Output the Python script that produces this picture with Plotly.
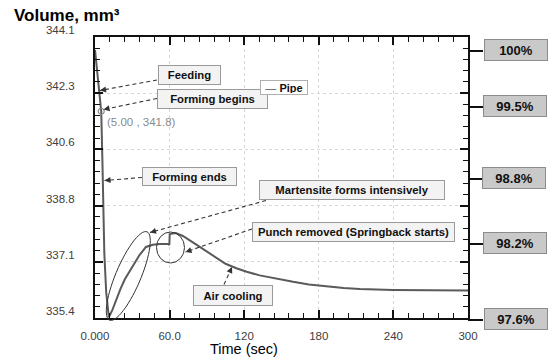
import numpy as np
import plotly.graph_objects as go

# ---- data ----
time_s = [0, 2, 3.6, 5, 6, 6.5, 7.5, 9, 10.2, 11.1, 14, 17, 20.5, 24, 27, 30.5, 35.8, 41, 46.5, 52,
          59, 59.8, 60.1, 65, 70.7, 81.5, 90, 97.6, 105, 113.7, 122, 132.5, 145, 159.3, 172, 186.2,
          200, 213, 239.6, 270, 300]
volume = [343.7, 342.9, 342.45, 341.8, 340.2, 339.0, 337.4, 336.2, 335.6, 335.42, 335.65, 335.98, 336.3,
          336.6, 336.8, 337.0, 337.35, 337.6, 337.67, 337.69, 337.69, 337.66, 338.0, 338.03, 337.94,
          337.67, 337.45, 337.25, 337.08, 336.94, 336.83, 336.72, 336.62, 336.52, 336.44, 336.38,
          336.33, 336.30, 336.27, 336.26, 336.25]
marker_t = [5.0]
marker_v = [341.8]

x_tickvals = [0, 60, 120, 180, 240, 300]
x_ticktext = ["0.000", "60.0", "120", "180", "240", "300"]
y_tickvals = [335.4, 337.14, 338.88, 340.62, 342.36, 344.1]
y_ticktext = ["335.4", "337.1", "338.8", "340.6", "342.3", "344.1"]

pct_labels = ["100%", "99.5%", "98.8%", "98.2%", "97.6%"]
pct_py = [51, 107, 179, 244, 320]          # pixel rows of the percentage markers
pct_box_cx = [515.5, 515, 513.5, 514.5, 515.5]

# ---- layout geometry (pixels) ----
W, H = 553, 361
L, R, T, B = 95, 468, 37, 318


def px(xp):
    return (xp - L) / (R - L)


def py(yp):
    return (B - yp) / (B - T)


fig = go.Figure()
fig.add_trace(go.Scatter(x=time_s, y=volume, mode="lines",
                         line=dict(color="#5a5a5a", width=2), showlegend=False, name="Pipe"))
fig.add_trace(go.Scatter(x=marker_t, y=marker_v, mode="markers",
                         marker=dict(symbol="circle-open", size=6, color="#888888", line=dict(width=1.2)),
                         showlegend=False))

shapes = []
annotations = []

FONT = "Liberation Sans, Arial, sans-serif"

# text boxes: (text, cx, cy, w, h)
boxes = [
    ("Feeding", 189.5, 75, 63, 20),
    ("Forming begins", 212.5, 99, 111, 20),
    ("Forming ends", 189.5, 176.5, 95, 19),
    ("Martensite forms intensively", 352, 190, 186, 20),
    ("Punch removed (Springback starts)", 353.5, 232.5, 203, 20),
    ("Air cooling", 233, 295.5, 80, 21),
]

# arrows: tail (px), head (px)
arrows = [
    ((157, 80), (100, 90.5)),
    ((157, 98.5), (103.5, 109.5)),
    ((142, 177.5), (104.5, 180.5)),
    ((266, 200.5), (150, 232.5)),
    ((252, 229), (185.5, 252)),
    ((224, 284.5), (232, 267)),
]
for (tx, ty), (hx, hy) in arrows:
    shapes.append(dict(type="line", xref="paper", yref="paper", x0=px(tx), y0=py(ty), x1=px(hx), y1=py(hy),
                       line=dict(color="#333333", width=1.1, dash="4px,3px"), layer="above"))
    dx, dy = tx - hx, ty - hy
    n = (dx * dx + dy * dy) ** 0.5
    annotations.append(dict(x=px(hx), y=py(hy), xref="paper", yref="paper", text="", showarrow=True,
                            ax=dx / n * 6, ay=dy / n * 6, arrowhead=2, arrowsize=1.1, arrowwidth=1.1,
                            arrowcolor="#333333"))

for text, cx, cy, w, h in boxes:
    annotations.append(dict(x=px(cx), y=py(cy), xref="paper", yref="paper", text="<b>%s</b>" % text,
                            showarrow=False, xanchor="center", yanchor="middle",
                            width=w - 4, height=h - 4, borderpad=1, borderwidth=1,
                            bordercolor="#9a9a9a", bgcolor="#f3f3f3",
                            font=dict(family=FONT, size=11.3, color="#111111")))

# legend-like "Pipe" box
annotations.append(dict(x=px(284), y=py(87), xref="paper", yref="paper",
                        text="<span style='color:#555555'>—</span> <b>Pipe</b>",
                        showarrow=False, xanchor="center", yanchor="middle", width=44, height=11,
                        borderpad=1, borderwidth=1, bordercolor="#b0b0b0", bgcolor="#ffffff",
                        font=dict(family=FONT, size=11, color="#111111")))

# data-point label
annotations.append(dict(x=px(105), y=py(122), xref="paper", yref="paper", text="(5.00 , 341.8)",
                        showarrow=False, xanchor="left", yanchor="middle",
                        font=dict(family=FONT, size=11.5, color="#8a8a8a")))

# ellipse around martensite region (rotated)
cx, cy, a, b, ang = 128.3, 276, 48, 12.5, np.deg2rad(-67)
th = np.linspace(0, 2 * np.pi, 60)
ex = cx + a * np.cos(th) * np.cos(ang) - b * np.sin(th) * np.sin(ang)
ey = cy + a * np.cos(th) * np.sin(ang) + b * np.sin(th) * np.cos(ang)
path = "M " + " L ".join("%.5f,%.5f" % (px(u), py(v)) for u, v in zip(ex, ey)) + " Z"
shapes.append(dict(type="path", xref="paper", yref="paper", path=path,
                   line=dict(color="#333333", width=1), layer="above"))
# circle around the punch-removal step
shapes.append(dict(type="circle", xref="paper", yref="paper", x0=px(156.5), x1=px(184.5),
                   y0=py(263), y1=py(232), line=dict(color="#333333", width=1), layer="above"))

# right-side percentage markers
for lab, yy, bcx in zip(pct_labels, pct_py, pct_box_cx):
    shapes.append(dict(type="line", xref="paper", yref="paper", x0=px(468), x1=px(483), y0=py(yy), y1=py(yy),
                       line=dict(color="#111111", width=2)))
    annotations.append(dict(x=px(bcx), y=py(yy - 1), xref="paper", yref="paper", text="<b>%s</b>" % lab,
                            showarrow=False, xanchor="center", yanchor="middle", width=60, height=18,
                            borderpad=1, borderwidth=1, bordercolor="#8c8c8c", bgcolor="#c9c9c9",
                            font=dict(family=FONT, size=13, color="#111111")))

# titles
annotations.append(dict(x=px(12), y=py(15), xref="paper", yref="paper", text="<b>Volume, mm³</b>",
                        showarrow=False, xanchor="left", yanchor="middle",
                        font=dict(family=FONT, size=17, color="#000000")))
annotations.append(dict(x=px(244), y=py(349), xref="paper", yref="paper", text="Time (sec)",
                        showarrow=False, xanchor="center", yanchor="middle",
                        font=dict(family=FONT, size=14.5, color="#000000")))

y_minor = list(np.round(np.arange(335.4, 344.11, 0.348), 3))

fig.update_layout(
    width=W, height=H,
    margin=dict(l=L, r=W - R, t=T, b=H - B, autoexpand=False),
    paper_bgcolor="white", plot_bgcolor="white",
    shapes=shapes, annotations=annotations,
    font=dict(family=FONT),
    xaxis=dict(range=[0, 300], tickvals=x_tickvals, ticktext=x_ticktext,
               showline=True, linecolor="#111111", linewidth=2, mirror="allticks",
               ticks="inside", ticklen=8, tickwidth=1.5, tickcolor="#111111",
               showgrid=True, gridcolor="#d6d6d6", griddash="3px,3px", gridwidth=1,
               zeroline=False, ticklabelstandoff=6,
               tickfont=dict(family=FONT, size=11.5, color="#404040"),
               minor=dict(dtick=12, tick0=0, ticks="inside", ticklen=5, tickwidth=1.2,
                          tickcolor="#111111", showgrid=False)),
    yaxis=dict(range=[335.4, 344.1], tickvals=y_tickvals, ticktext=y_ticktext,
               showline=True, linecolor="#111111", linewidth=2, mirror="allticks",
               ticks="inside", ticklen=8, tickwidth=1.5, tickcolor="#111111",
               showgrid=True, gridcolor="#d6d6d6", griddash="3px,3px", gridwidth=1,
               zeroline=False, ticklabelstandoff=16, ticklabelshift=-7,
               tickfont=dict(family=FONT, size=11.5, color="#404040"),
               minor=dict(tickvals=y_minor, ticks="inside", ticklen=5, tickwidth=1.2,
                          tickcolor="#111111", showgrid=False)),
)

fig.write_html("out.html", config={"displayModeBar": False},
               post_script="document.body.style.margin='0';")
